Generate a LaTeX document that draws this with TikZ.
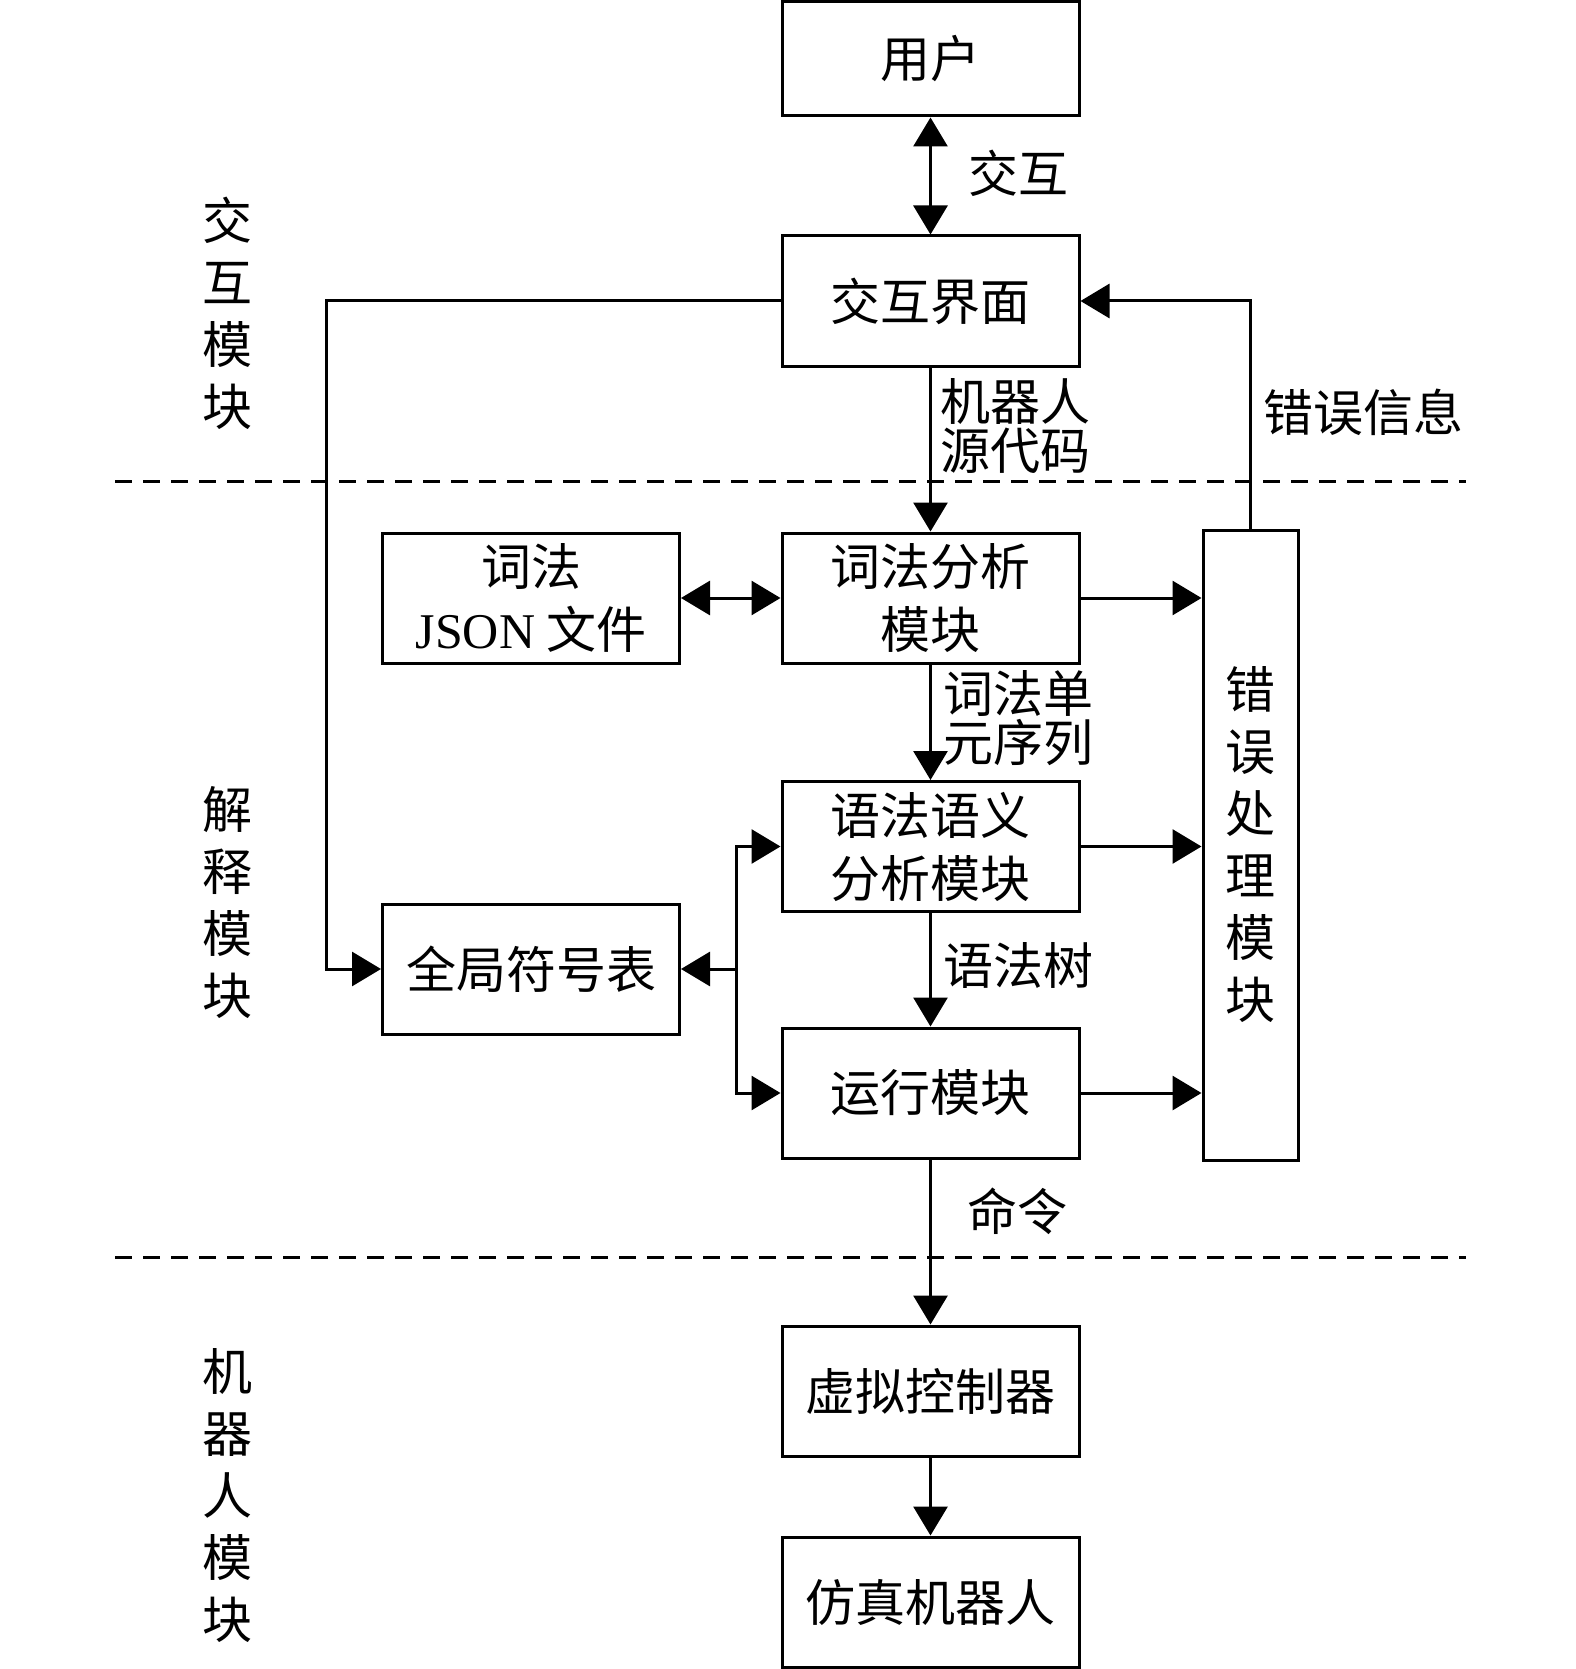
\documentclass[tikz,border=0pt]{standalone}
\usepackage{fontspec}
\setmainfont{Noto Sans CJK SC}
\newfontfamily\latinfont{Liberation Serif}
\usetikzlibrary{arrows.meta}
\begin{document}
\begin{tikzpicture}[x=1pt,y=-1pt,
  box/.style={draw,line width=3pt,minimum width=297pt,minimum height=130pt,inner sep=0pt,align=center,font=\fontsize{50}{63}\selectfont},
  lbl/.style={anchor=west,inner sep=0pt,align=left,font=\fontsize{50}{49}\selectfont},
  side/.style={inner sep=0pt,align=center,font=\fontsize{50}{62}\selectfont},
  arr/.style={line width=3pt,-{Triangle[length=29pt,width=34pt]}},
  darr/.style={line width=3pt,{Triangle[length=29pt,width=34pt]}-{Triangle[length=29pt,width=34pt]}},
  sep/.style={line width=3pt,dash pattern=on 17pt off 11pt}]
\useasboundingbox (0,0) rectangle (1575,1669);
% separators
\coordinate (dl1) at (115,481);
\coordinate (dr1) at (1466,481);
\coordinate (dl2) at (115,1257);
\coordinate (dr2) at (1466,1257);
\draw[sep] (dl1) -- (dr1);
\draw[sep] (dl2) -- (dr2);
% boxes
\node[box,minimum height=114pt] (user) at (930.5,59) {用户};
\node[box] (ui) at (930.5,301) {交互界面};
\node[box] (lex) at (930.5,598) {词法分析\\模块};
\node[box] (json) at (531,598) {词法\\{\latinfont JSON} 文件};
\node[box] (syn) at (930.5,846.5) {语法语义\\分析模块};
\node[box] (sym) at (531,969) {全局符号表};
\node[box] (run) at (930.5,1093) {运行模块};
\node[box] (vc) at (930.5,1391) {虚拟控制器};
\node[box] (robot) at (930.5,1602) {仿真机器人};
\node[box,minimum width=95pt,minimum height=630pt,font=\fontsize{50}{62}\selectfont] (err) at (1250.5,845) {错\\误\\处\\理\\模\\块};
% helper coordinates
\coordinate (lx) at (326,0);
\coordinate (jx) at (736,0);
% connectors
\draw[darr] (user) -- (ui);
\draw[arr] (ui) -- (lex);
\draw[arr] (ui.west) -- (ui.west -| lx) |- (sym.west);
\draw[arr] (err.north) |- (ui.east);
\draw[darr] (json) -- (lex);
\draw[arr] (lex) -- (lex -| err.west);
\draw[arr] (syn) -- (syn -| err.west);
\draw[arr] (run) -- (run -| err.west);
\draw[arr] (lex) -- (syn);
\draw[arr] (syn) -- (run);
\draw[arr] (sym.east -| jx) |- (syn.west);
\draw[arr] (sym.east -| jx) |- (run.west);
\draw[arr] (sym.east -| jx) -- (sym.east);
\draw[arr] (run) -- (vc);
\draw[arr] (vc) -- (robot);
% labels
\node[lbl] (l1) at (968,173) {交互};
\node[lbl] (l2) at (940,426) {机器人\\源代码};
\node[lbl] (l3) at (1263,412) {错误信息};
\node[lbl] (l4) at (943,718) {词法单\\元序列};
\node[lbl] (l5) at (943,965) {语法树};
\node[lbl] (l6) at (967,1211) {命令};
% side labels
\node[side] (s1) at (227,313) {交\\互\\模\\块};
\node[side] (s2) at (227,903) {解\\释\\模\\块};
\node[side] (s3) at (227,1495.5) {机\\器\\人\\模\\块};
\end{tikzpicture}
\end{document}
